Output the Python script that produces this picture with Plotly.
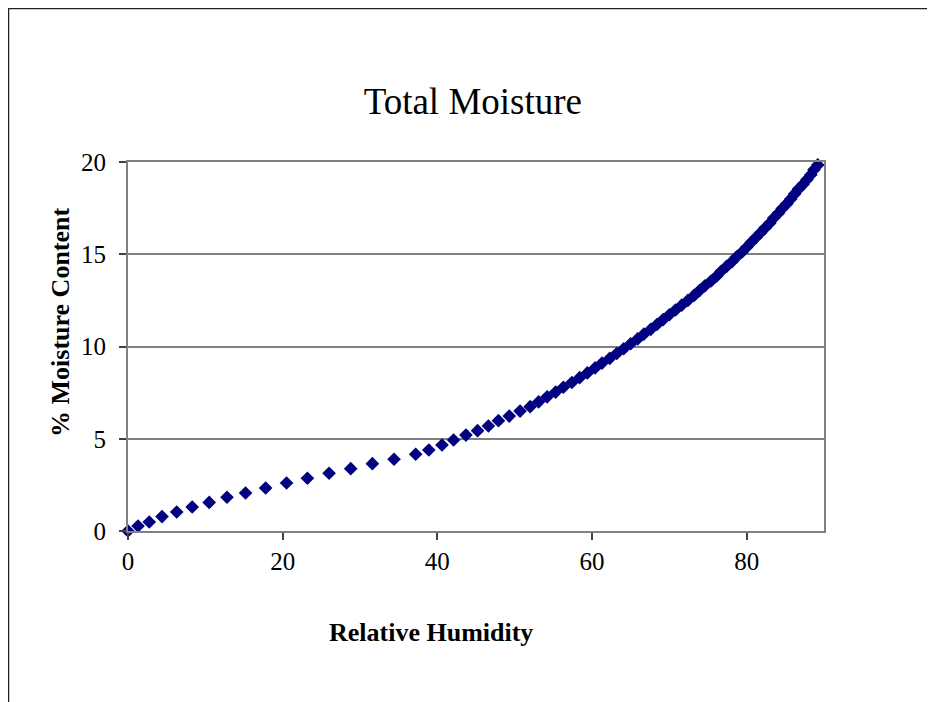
import plotly.graph_objects as go

# Relative humidity (%)
rh = [0, 1.3, 2.75, 4.4, 6.3, 8.3, 10.5, 12.8, 15.2, 17.8, 20.5, 23.2, 26.0, 28.8,
      31.6, 34.4, 37.2, 38.9, 40.6, 42.1, 43.7, 45.2, 46.6, 47.9, 49.3, 50.7,
      52.0, 53.1, 54.2, 55.3, 56.3, 57.4, 58.4, 59.4, 60.4, 61.3, 62.3, 63.2, 64.1,
      65.0, 65.9, 66.7, 67.6, 68.4, 69.2, 70.0, 70.8, 71.6, 72.4, 73.2, 73.9, 74.6,
      75.4, 76.1, 76.7, 77.4, 78.1, 78.7, 79.4, 80.0, 80.6, 81.2, 81.8, 82.4, 83.0,
      83.5, 84.1, 84.6, 85.2, 85.7, 86.2, 86.7, 87.3, 87.8, 88.3, 88.7, 89.2]
# % moisture content
mc = [0, 0.27, 0.49, 0.78, 1.03, 1.30, 1.55, 1.83, 2.06, 2.33, 2.60, 2.86, 3.13, 3.38,
      3.65, 3.89, 4.16, 4.39, 4.66, 4.93, 5.20, 5.44, 5.69, 5.98, 6.23, 6.50,
      6.74, 7.00, 7.27, 7.53, 7.79, 8.05, 8.31, 8.57, 8.84, 9.10, 9.36, 9.62, 9.88,
      10.15, 10.41, 10.67, 10.93, 11.19, 11.46, 11.72, 11.98, 12.24, 12.50, 12.77, 13.03, 13.29,
      13.55, 13.81, 14.08, 14.34, 14.60, 14.86, 15.12, 15.38, 15.65, 15.91, 16.17, 16.43, 16.69,
      16.96, 17.22, 17.48, 17.74, 18.00, 18.27, 18.53, 18.79, 19.05, 19.31, 19.58, 19.84]

x_ticks = [0, 20, 40, 60, 80]
y_ticks = [0, 5, 10, 15, 20]

OFF = 8  # page body margin
W, H = 935 - OFF, 702 - OFF
L, T = 128 - OFF, 162 - OFF
R = W - (824 - OFF)
B = H - (531 - OFF)
pw, ph = W - L - R, H - T - B

def px(x):
    return (x - OFF - L) / pw

def py(y):
    return (H - B - (y - OFF)) / ph

FONT = "Liberation Serif, Times New Roman, serif"
AX = "#808080"

fig = go.Figure()
fig.add_trace(go.Scatter(
    x=rh, y=mc, mode="markers", cliponaxis=False,
    marker=dict(symbol="diamond", size=10.5, color="#000080", line=dict(width=0)),
    showlegend=False, hoverinfo="x+y"))

fig.update_layout(
    width=W, height=H,
    margin=dict(l=L, r=R, t=T, b=B),
    paper_bgcolor="white", plot_bgcolor="white",
    font=dict(family=FONT, color="black", size=25),
    title=dict(text="Total Moisture", x=px(477), xanchor="center",
               y=1 - (101 - OFF) / H, yanchor="middle",
               font=dict(family=FONT, size=37, color="black")),
    xaxis=dict(range=[0, 90], tickvals=x_ticks, showgrid=False, zeroline=False,
               showline=True, linecolor=AX, linewidth=2, mirror=True,
               ticks="outside", ticklen=7, tickcolor="#404040", tickwidth=1.5,
               tickfont=dict(family=FONT, size=25, color="black")),
    yaxis=dict(range=[0, 20], tickvals=y_ticks, showgrid=True, gridcolor=AX, gridwidth=1.5,
               zeroline=False, ticklabelstandoff=8,
               showline=True, linecolor=AX, linewidth=2, mirror=True,
               ticks="outside", ticklen=7, tickcolor="#404040", tickwidth=1.5,
               tickfont=dict(family=FONT, size=25, color="black")),
    annotations=[
        dict(text="<b>Relative Humidity</b>", xref="paper", yref="paper",
             x=px(431), y=py(632), xanchor="center", yanchor="middle", showarrow=False,
             font=dict(family=FONT, size=26, color="black")),
        dict(text="<b>% Moisture Content</b>", xref="paper", yref="paper",
             x=px(60), y=py(322), xanchor="center", yanchor="middle", showarrow=False,
             textangle=-90, font=dict(family=FONT, size=26, color="black")),
    ],
    shapes=[
        dict(type="line", xref="paper", yref="paper", x0=px(8), x1=px(940), y0=py(8.5), y1=py(8.5),
             line=dict(color="#202020", width=1.5)),
        dict(type="line", xref="paper", yref="paper", x0=px(8.5), x1=px(8.5), y0=py(8), y1=py(710),
             line=dict(color="#202020", width=1.5)),
    ],
)

fig.write_html("out.html")
